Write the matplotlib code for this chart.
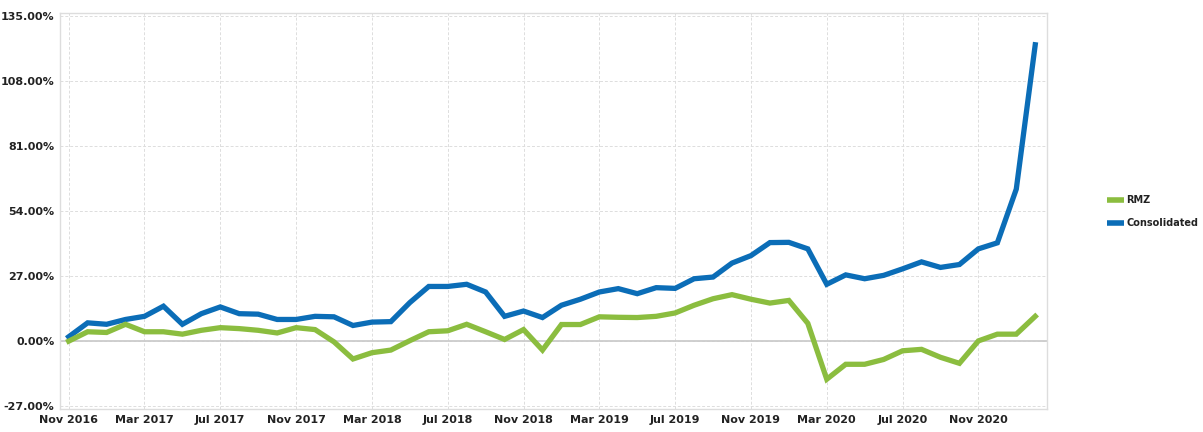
import matplotlib.pyplot as plt
import numpy as np
from matplotlib.lines import Line2D

# monthly points, Nov 2016 .. Feb 2021
months = ["Nov 2016", "Dec 2016", "Jan 2017", "Feb 2017", "Mar 2017", "Apr 2017", "May 2017",
          "Jun 2017", "Jul 2017", "Aug 2017", "Sep 2017", "Oct 2017", "Nov 2017", "Dec 2017",
          "Jan 2018", "Feb 2018", "Mar 2018", "Apr 2018", "May 2018", "Jun 2018", "Jul 2018",
          "Aug 2018", "Sep 2018", "Oct 2018", "Nov 2018", "Dec 2018", "Jan 2019", "Feb 2019",
          "Mar 2019", "Apr 2019", "May 2019", "Jun 2019", "Jul 2019", "Aug 2019", "Sep 2019",
          "Oct 2019", "Nov 2019", "Dec 2019", "Jan 2020", "Feb 2020", "Mar 2020", "Apr 2020",
          "May 2020", "Jun 2020", "Jul 2020", "Aug 2020", "Sep 2020", "Oct 2020", "Nov 2020",
          "Dec 2020", "Jan 2021", "Feb 2021"]

rmz = [0.0, 3.9, 3.6, 7.0, 3.9, 3.9, 2.9, 4.5, 5.6, 5.2, 4.5, 3.4, 5.6, 4.8,
       -0.3, -7.4, -4.8, -3.7, 0.2, 3.9, 4.3, 7.0, 3.9, 0.7, 4.8, -3.7, 6.9, 6.9,
       10.1, 9.9, 9.8, 10.3, 11.7, 14.9, 17.6, 19.3, 17.4, 15.8, 16.9, 7.4, -15.8, -9.6,
       -9.6, -7.6, -4.0, -3.4, -6.7, -9.2, 0.1, 2.9, 2.9, 10.3]

consolidated = [1.8, 7.6, 7.0, 9.0, 10.3, 14.5, 7.0, 11.4, 14.2, 11.4, 11.2, 9.0, 9.0, 10.3,
                10.1, 6.5, 7.9, 8.1, 16.0, 22.7, 22.7, 23.6, 20.4, 10.3, 12.5, 9.8, 14.9, 17.4,
                20.4, 21.8, 19.7, 22.2, 21.9, 25.9, 26.6, 32.4, 35.5, 40.9, 41.0, 38.3, 23.6, 27.5,
                25.9, 27.3, 30.0, 32.9, 30.6, 31.8, 38.3, 40.8, 63.1, 123.0]

yticks = [-27, 0, 27, 54, 81, 108, 135]

green = "#8bbd3f"
blue = "#0b6db7"

x = np.arange(len(months))

fig = plt.figure(figsize=(12.03, 4.32), dpi=100)
ax = fig.add_axes([0.05, 0.053, 0.82, 0.917])

ax.plot(x, consolidated, color=blue, lw=3.8, solid_joinstyle="miter", zorder=3)
ax.plot(x, rmz, color=green, lw=3.8, solid_joinstyle="miter", zorder=3)

ax.set_xlim(-0.45, 51.6)
ax.set_ylim(-28.2, 136.2)

ax.set_yticks(yticks)
ax.set_yticklabels([f"{v:.2f}%" for v in yticks])
ax.set_xticks(x[::4])
ax.set_xticklabels(months[::4])

ax.grid(True, color="#dddddd", ls=(0, (3, 2)), lw=0.7)
ax.axhline(0, color="#cccccc", lw=1.3, zorder=2)
for s in ax.spines.values():
    s.set_color("#dddddd")
    s.set_linewidth(1.0)
ax.tick_params(length=0, pad=4, labelsize=8, labelcolor="#222222")
for lab in ax.get_xticklabels() + ax.get_yticklabels():
    lab.set_fontweight("bold")

# legend on the right side
handles = [Line2D([], [], color=green, lw=4, solid_capstyle="butt"),
           Line2D([], [], color=blue, lw=4, solid_capstyle="butt")]
leg = fig.legend(handles, ["RMZ", "Consolidated"], loc="center left",
                 bbox_to_anchor=(0.913, 0.51), frameon=False, handlelength=1.7,
                 handletextpad=0.3, labelspacing=1.35,
                 prop={"size": 7, "weight": "bold"})
for t in leg.get_texts():
    t.set_color("#222222")

fig.savefig("out.png", dpi=100)
